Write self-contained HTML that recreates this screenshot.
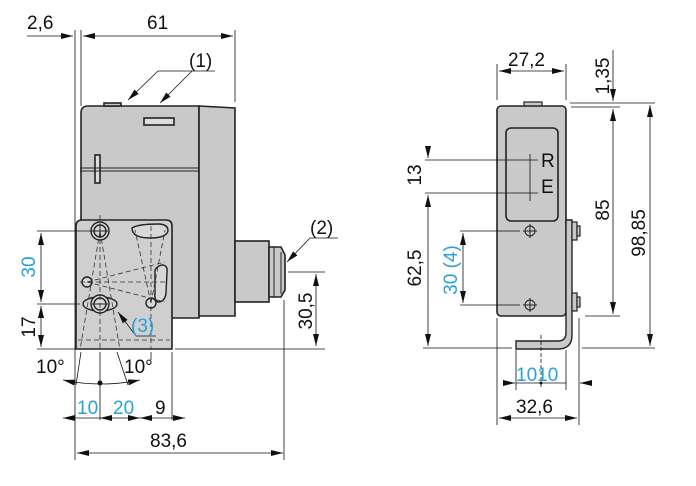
<!DOCTYPE html>
<html><head><meta charset="utf-8"><style>
html,body{margin:0;padding:0;background:#fff;}
svg{display:block;}
text{font-family:"Liberation Sans",sans-serif;font-size:19px;fill:#111;}
.b{fill:#2aa0d8;}
</style></head><body>
<svg width="696" height="486" viewBox="0 0 696 486" xmlns="http://www.w3.org/2000/svg">
<defs>
<marker id="a" viewBox="0 0 12 6" refX="12" refY="3" markerWidth="12" markerHeight="6" orient="auto-start-reverse" markerUnits="userSpaceOnUse"><path d="M0,0L12,3L0,6z" fill="#111"/></marker>
</defs>
<g stroke="#111" stroke-width="0.8" fill="none">
<line x1="75" y1="30" x2="75" y2="460"/>
<line x1="81" y1="30" x2="81" y2="106"/>
<line x1="235" y1="30" x2="235" y2="102"/>
<line x1="27" y1="36" x2="73" y2="36" marker-end="url(#a)"/>
<line x1="83" y1="36" x2="233" y2="36" marker-start="url(#a)" marker-end="url(#a)"/>
</g>
<g stroke="#222" stroke-width="1.6" fill="#c9c9c9">
<path d="M81,318 L81,113 Q81,106 88,106 L199,106 L199,318 Z"/>
<path d="M199,106 L235,108 L235,316 L199,316 Z"/>
<rect x="104" y="103" width="17" height="3" />
<rect x="144" y="118" width="30" height="7" fill="#ddd"/>
<rect x="95" y="155" width="5" height="28" fill="#ddd"/>
<rect x="235" y="241" width="34" height="61"/>
<path d="M269,247 L281,247 L285,255 L285,290 L281,297 L269,297 Z"/>
</g>
<g stroke="#222" stroke-width="1" fill="none">
<line x1="80" y1="168" x2="199" y2="168"/><line x1="80" y1="171" x2="199" y2="171"/>
<line x1="274" y1="247" x2="274" y2="297"/><line x1="281" y1="252" x2="281" y2="294"/>
</g>
<path d="M76,349 L76,226 Q76,220 82,220 L166,220 Q172,220 172,226 L172,349 Z" fill="#cfcfcf" stroke="#222" stroke-width="1.6"/>
<g stroke="#222" stroke-width="1.4" fill="#d8d8d8">
<circle cx="100" cy="231" r="9"/><circle cx="100" cy="231" r="6"/>
<path d="M132,228 Q138,224 158,224 Q168,224 168,231 Q166,238 150,238 Q132,238 132,228 Z"/>
<path d="M155,270 Q158,265 163,265 Q168,266 167,272 L166,293 Q165,302 158,302 Q154,300 155,293 Z"/>
<circle cx="87" cy="282" r="5"/>
<ellipse cx="100" cy="304" rx="17" ry="7"/>
<circle cx="100" cy="304" r="9"/><circle cx="100" cy="304" r="6"/>
<circle cx="151" cy="303" r="5"/>
</g>
<g stroke="#222" stroke-width="1">
<line x1="92" y1="231" x2="108" y2="231"/><line x1="100" y1="224" x2="100" y2="238"/>
<line x1="92" y1="304" x2="108" y2="304"/>
</g>
<g stroke="#333" stroke-width="0.8" fill="none" stroke-dasharray="5,3">
<line x1="100" y1="231" x2="80" y2="350"/><line x1="100" y1="231" x2="120" y2="350"/>
<line x1="100" y1="215" x2="100" y2="350"/>
<line x1="87" y1="282" x2="165" y2="262"/><line x1="87" y1="282" x2="165" y2="302"/><line x1="80" y1="282" x2="168" y2="282"/>
<line x1="151" y1="226" x2="151" y2="350"/>
<line x1="151" y1="303" x2="135" y2="230"/><line x1="151" y1="303" x2="165" y2="230"/>
<line x1="78" y1="340" x2="170" y2="340"/>
</g>
<g stroke="#111" stroke-width="0.8" fill="none">
<line x1="158" y1="71" x2="215" y2="71"/>
<line x1="158" y1="71" x2="128" y2="100" marker-end="url(#a)"/>
<line x1="192" y1="71" x2="160" y2="103" marker-end="url(#a)"/>
<line x1="310" y1="238" x2="338" y2="238"/>
<line x1="310" y1="238" x2="287" y2="262" marker-end="url(#a)"/>
<line x1="288" y1="272" x2="325" y2="272"/>
<line x1="316" y1="274" x2="316" y2="346" marker-start="url(#a)" marker-end="url(#a)"/>
<line x1="175" y1="349" x2="325" y2="349"/>
<line x1="284" y1="300" x2="284" y2="460"/>
<line x1="37" y1="231" x2="96" y2="231"/>
<line x1="37" y1="304" x2="80" y2="304"/>
<line x1="37" y1="349" x2="76" y2="349"/>
<line x1="41" y1="233" x2="41" y2="302" marker-start="url(#a)" marker-end="url(#a)"/>
<line x1="41" y1="306" x2="41" y2="347" marker-start="url(#a)" marker-end="url(#a)"/>
<line x1="136" y1="336" x2="156" y2="336"/>
<line x1="136" y1="336" x2="118" y2="312" marker-end="url(#a)"/>
<line x1="81" y1="352" x2="76" y2="385"/>
<line x1="117" y1="352" x2="128" y2="385"/>
<line x1="151" y1="352" x2="151" y2="360"/>
<path d="M63,380 Q100,388 140,380" marker-start="url(#a)" marker-end="url(#a)"/>
<line x1="100" y1="352" x2="100" y2="420"/>
<line x1="172" y1="352" x2="172" y2="420"/>
<line x1="63" y1="418" x2="100" y2="418" marker-start="url(#a)"/>
<line x1="100" y1="418" x2="140" y2="418" marker-start="url(#a)" marker-end="url(#a)"/>
<line x1="140" y1="418" x2="185" y2="418" marker-start="url(#a)" marker-end="url(#a)"/>
<line x1="77" y1="453" x2="283" y2="453" marker-start="url(#a)" marker-end="url(#a)"/>
</g>
<circle cx="100" cy="383" r="2.5" fill="#111"/>
<text x="27" y="29">2,6</text>
<text x="147" y="29">61</text>
<text x="189" y="67">(1)</text>
<text x="310" y="234">(2)</text>
<text x="131" y="332" class="b">(3)</text>
<text transform="translate(312,311) rotate(-90)" text-anchor="middle">30,5</text>
<text transform="translate(35,267) rotate(-90)" text-anchor="middle" class="b">30</text>
<text transform="translate(35,327) rotate(-90)" text-anchor="middle">17</text>
<text x="36" y="373">10°</text>
<text x="124" y="373">10°</text>
<text x="77" y="414" class="b">10</text>
<text x="113" y="414" class="b">20</text>
<text x="155" y="414">9</text>
<text x="150" y="447">83,6</text>

<rect x="524" y="102" width="18" height="5" fill="#c9c9c9" stroke="#222" stroke-width="1.2"/>
<rect x="497" y="106" width="69" height="210" rx="4" fill="#c9c9c9" stroke="#222" stroke-width="1.6"/>
<rect x="506" y="128" width="52" height="93" rx="5" fill="#c9c9c9" stroke="#222" stroke-width="1.6"/>
<path d="M566,220 L572,220 L572,335 Q572,349 558,349 L516,349 L516,341 L558,341 Q566,341 566,333 Z" fill="#c9c9c9" stroke="#222" stroke-width="1.4"/>
<g fill="#c9c9c9" stroke="#222" stroke-width="1.2">
<rect x="572" y="222" width="5" height="18"/><rect x="577" y="226" width="3" height="10"/>
<rect x="572" y="293" width="5" height="18"/><rect x="577" y="297" width="3" height="10"/>
</g>
<g stroke="#222" stroke-width="1" fill="none">
<circle cx="530" cy="231" r="5"/><line x1="523" y1="231" x2="537" y2="231"/><line x1="530" y1="224" x2="530" y2="238"/>
<circle cx="530" cy="305" r="5"/><line x1="523" y1="305" x2="537" y2="305"/><line x1="530" y1="298" x2="530" y2="312"/>
</g>
<g stroke="#111" stroke-width="0.8" fill="none">
<line x1="425" y1="160" x2="538" y2="160"/>
<line x1="425" y1="193" x2="538" y2="193"/>
<line x1="530" y1="154" x2="530" y2="201"/>
<line x1="428" y1="148" x2="428" y2="158" marker-end="url(#a)"/>
<line x1="428" y1="195" x2="428" y2="346" marker-start="url(#a)" marker-end="url(#a)"/>
<line x1="460" y1="231" x2="520" y2="231"/>
<line x1="460" y1="305" x2="520" y2="305"/>
<line x1="463" y1="233" x2="463" y2="303" marker-start="url(#a)" marker-end="url(#a)"/>
<line x1="497" y1="64" x2="497" y2="100"/>
<line x1="566" y1="64" x2="566" y2="100"/>
<line x1="499" y1="71" x2="564" y2="71" marker-start="url(#a)" marker-end="url(#a)"/>
<line x1="613" y1="50" x2="613" y2="101" marker-end="url(#a)"/>
<line x1="570" y1="103" x2="655" y2="103"/>
<line x1="571" y1="107" x2="620" y2="107"/>
<line x1="613" y1="109" x2="613" y2="314" marker-start="url(#a)" marker-end="url(#a)"/>
<line x1="585" y1="316" x2="620" y2="316"/>
<line x1="650" y1="105" x2="650" y2="346" marker-start="url(#a)" marker-end="url(#a)"/>
<line x1="423" y1="348" x2="512" y2="348"/>
<line x1="582" y1="348" x2="655" y2="348"/>
<line x1="497" y1="318" x2="497" y2="425"/>
<line x1="579" y1="318" x2="579" y2="425"/>
<line x1="516" y1="350" x2="516" y2="390"/>
<line x1="566" y1="350" x2="566" y2="390"/>
<line x1="541" y1="335" x2="541" y2="388" stroke-dasharray="4,2"/>
<line x1="503" y1="383" x2="515" y2="383" marker-end="url(#a)"/>
<line x1="516" y1="383" x2="566" y2="383"/>
<line x1="591" y1="383" x2="580" y2="383" marker-end="url(#a)"/>
<line x1="499" y1="418" x2="577" y2="418" marker-start="url(#a)" marker-end="url(#a)"/>
</g>
<circle cx="541" cy="383" r="1.5" fill="#111"/>
<text x="541" y="167" font-size="19">R</text>
<text x="541" y="193" font-size="19">E</text>
<text x="508" y="66">27,2</text>
<text transform="translate(609,76) rotate(-90)" text-anchor="middle">1,35</text>
<text transform="translate(609,210) rotate(-90)" text-anchor="middle">85</text>
<text transform="translate(645,233) rotate(-90)" text-anchor="middle">98,85</text>
<text transform="translate(421,175) rotate(-90)" text-anchor="middle">13</text>
<text transform="translate(421,268) rotate(-90)" text-anchor="middle">62,5</text>
<text transform="translate(457,270) rotate(-90)" text-anchor="middle" class="b">30 (4)</text>
<text x="516" y="381" class="b">1010</text>
<text x="516" y="413">32,6</text>
</svg>
</body></html>
